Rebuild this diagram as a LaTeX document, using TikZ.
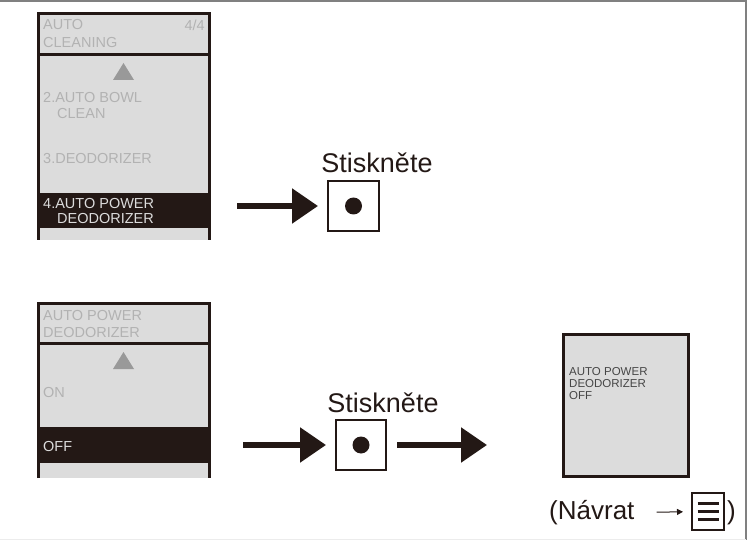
\documentclass[tikz,border=0pt]{standalone}
\usepackage{fontspec}
\setmainfont{Liberation Sans}
\usepackage{xcolor}
\usetikzlibrary{arrows.meta,positioning}

\definecolor{lcdgray}{HTML}{DCDCDC}
\definecolor{lcdtext}{HTML}{B2B2B2}
\definecolor{inkdark}{HTML}{231815}

\begin{document}
\begin{tikzpicture}[x=1pt, y=-1pt,
frame/.style={draw=inkdark, line width=3pt},
lcd/.style={fill=lcdgray},
band/.style={fill=inkdark},
uptri/.style={fill=gray!80},
item/.style={anchor=west, inner sep=0pt, font=\fontsize{14.5}{15}\selectfont, text=lcdtext},
itemsel/.style={item, text=lcdgray},
btn/.style={draw=inkdark, line width=2pt, minimum width=50pt, minimum height=50pt, inner sep=0pt},
dot/.style={circle, fill=inkdark, minimum size=17pt, inner sep=0pt},
press/.style={font=\fontsize{27}{30}\selectfont, text=inkdark, inner sep=0pt},
arr/.style={-{Triangle[length=26pt,width=34pt]}, line width=5.5pt, draw=inkdark}
]
\useasboundingbox (0,0) rectangle (747,540);
\draw[gray, line width=2pt] (0,1) -- (746,1) -- (746,540);
\draw[gray!15, line width=1pt] (0,539) -- (746,539);

% screen 1
\fill[lcd] (38,14) rectangle (209,240);
\fill[band] (38,193) rectangle (209,228);
\draw[frame] (38,240) -- (38,14) -- (209,14) -- (209,240);
\draw[frame] (38,55) -- (209,55);
\fill[uptri] (113,80) -- (123.5,63) -- (134,80) -- cycle;
\node[item] (s1a) at (43,25) {AUTO};
\node[item, anchor=east] (s1p) at (205,25) {4/4};
\node[item] (s1b) at (43,43) {CLEANING};
\node[item] (s1c) at (43,98) {2.AUTO BOWL};
\node[item] (s1d) at (57,114) {CLEAN};
\node[item] (s1e) at (43,159) {3.DEODORIZER};
\node[itemsel] (s1f) at (43,204) {4.AUTO POWER};
\node[itemsel] (s1g) at (57,219) {DEODORIZER};

% screen 2
\fill[lcd] (38,303) rectangle (209,478);
\fill[band] (38,427) rectangle (209,463);
\draw[frame] (38,478) -- (38,303) -- (209,303) -- (209,478);
\draw[frame] (38,343) -- (209,343);
\fill[uptri] (113,369) -- (123.5,352) -- (134,369) -- cycle;
\node[item] (s2a) at (43,316) {AUTO POWER};
\node[item] (s2b) at (43,333) {DEODORIZER};
\node[item] (s2c) at (43,393) {ON};
\node[itemsel] (s2d) at (43,447) {OFF};

% screen 3
\draw[frame, lcd] (563,334) rectangle (688,476);
\node[anchor=north west, inner sep=0pt, align=left, text=gray!55!black,
  font=\fontsize{11.5}{12}\selectfont] (s3) at (569,367) {AUTO POWER\\DEODORIZER\\OFF};

% buttons
\node[btn, minimum width=51pt] (btn1) at (353.5,206) {};
\node[dot] at (btn1.center) {};
\node[press] (lbl1) at (377,163) {Stiskněte};
\coordinate (in1) at (237,206);
\draw[arr, shorten >=9pt] (in1) -- (btn1);

\node[btn] (btn2) at (361,445) {};
\node[dot] at (btn2.center) {};
\node[press] (lbl2) at (383,403) {Stiskněte};
\coordinate (in2) at (243,445);
\coordinate (out2) at (487,445);
\draw[arr, shorten >=9pt] (in2) -- (btn2);
\draw[arr, shorten <=10pt] (btn2) -- (out2);

% return
\node[anchor=west, inner sep=0pt, font=\fontsize{26}{28}\selectfont, text=inkdark] (ret) at (549,513) {(Návrat};
\node[btn, minimum width=32pt, minimum height=37pt] (menu) at (708,511.5) {};
\foreach \dy in {-8,0,8}
  \draw[inkdark, line width=2.5pt] ([xshift=-10.5pt, yshift=\dy pt]menu.center) -- ++(21,0);
\node[anchor=west, inner sep=0pt, font=\fontsize{26}{28}\selectfont, text=inkdark] (close) at (727,513) {)};
\draw[-{Triangle[length=6pt,width=6pt]}, line width=1pt, inkdark, shorten <=22pt, shorten >=8pt] (ret) -- (menu);
\end{tikzpicture}
\end{document}
